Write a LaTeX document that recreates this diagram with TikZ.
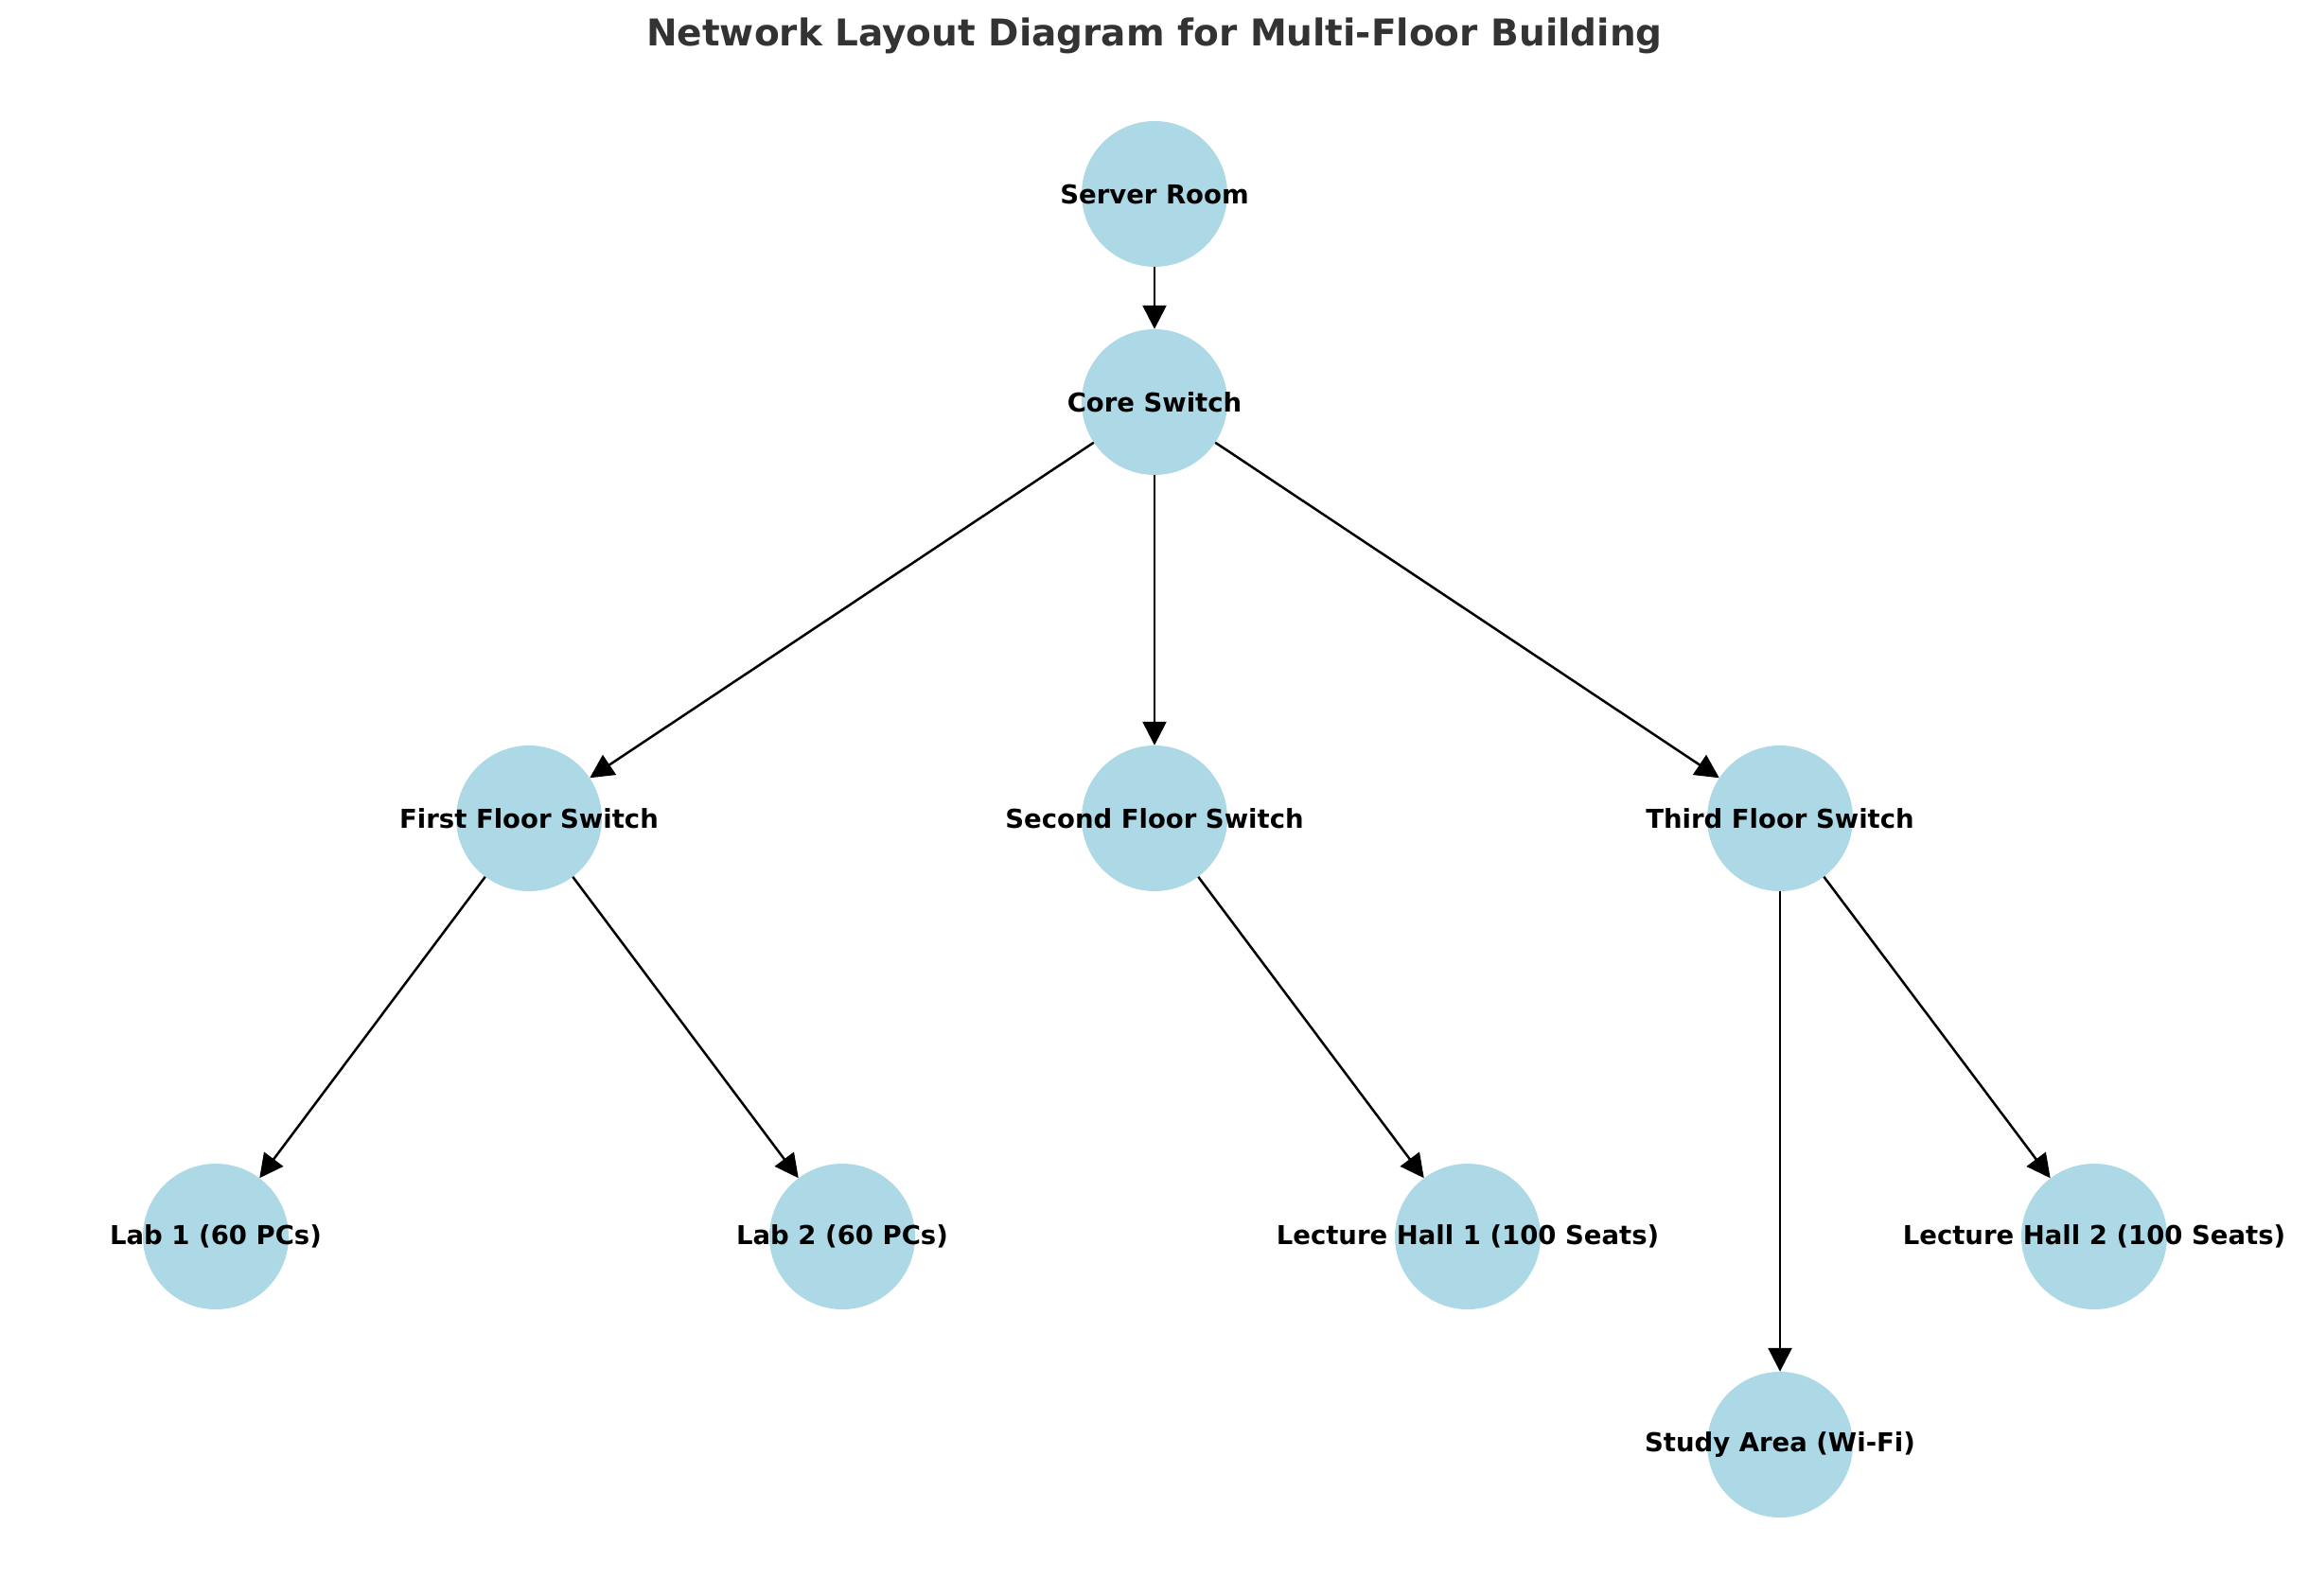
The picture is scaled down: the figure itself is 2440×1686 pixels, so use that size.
\documentclass[tikz,border=0pt]{standalone}
\usepackage{fontspec}
\setmainfont{DejaVu Sans}
\usetikzlibrary{arrows.meta}
\definecolor{nodeblue}{HTML}{ADD8E6}
\definecolor{titlegray}{HTML}{333333}
\begin{document}
\begin{tikzpicture}[x=1pt,y=-1pt,
  dot/.style={circle,fill=nodeblue,draw=none,minimum size=154pt,inner sep=0pt},
  lbl/.style={font=\fontsize{27.5}{30}\selectfont\bfseries,text=black,inner sep=0pt},
  arr/.style={-{Triangle[length=25pt,width=25pt]},line width=2.5pt,black}]
\useasboundingbox (0,0) rectangle (2440,1686);
\node[font=\fontsize{39}{42}\selectfont\bfseries,text=titlegray] (title) at (1220,38) {Network Layout Diagram for Multi-Floor Building};
\node[dot] (server) at (1220,205) {};
\node[dot] (core) at (1220,425) {};
\node[dot] (first) at (559,865) {};
\node[dot] (second) at (1220,865) {};
\node[dot] (third) at (1881,865) {};
\node[dot] (lab1) at (228,1307) {};
\node[dot] (lab2) at (890,1307) {};
\node[dot] (lh1) at (1551,1307) {};
\node[dot] (lh2) at (2213,1307) {};
\node[dot] (study) at (1881,1527) {};
\node[lbl] at (server) {Server Room};
\node[lbl] at (core) {Core Switch};
\node[lbl] at (first) {First Floor Switch};
\node[lbl] at (second) {Second Floor Switch};
\node[lbl] at (third) {Third Floor Switch};
\node[lbl] at (lab1) {Lab 1 (60 PCs)};
\node[lbl] at (lab2) {Lab 2 (60 PCs)};
\node[lbl] at (lh1) {Lecture Hall 1 (100 Seats)};
\node[lbl] at (lh2) {Lecture Hall 2 (100 Seats)};
\node[lbl] at (study) {Study Area (Wi-Fi)};
\draw[arr] (server) -- (core);
\draw[arr] (core) -- (first);
\draw[arr] (core) -- (second);
\draw[arr] (core) -- (third);
\draw[arr] (first) -- (lab1);
\draw[arr] (first) -- (lab2);
\draw[arr] (second) -- (lh1);
\draw[arr] (third) -- (study);
\draw[arr] (third) -- (lh2);
\end{tikzpicture}
\end{document}
